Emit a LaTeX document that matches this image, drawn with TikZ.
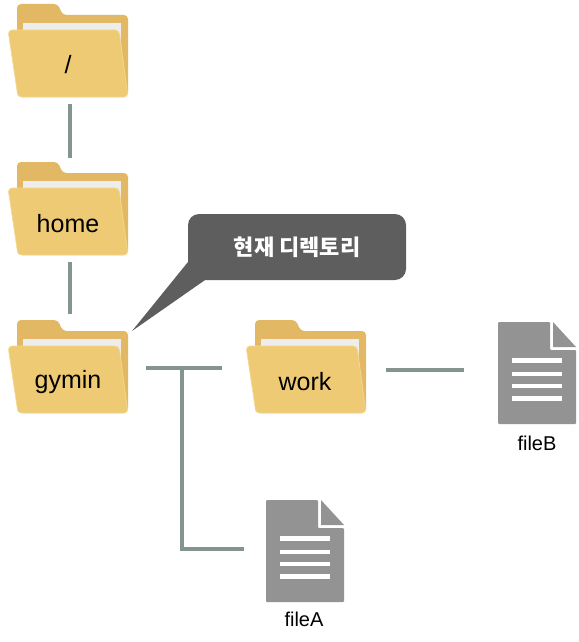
\documentclass[tikz,border=0pt]{standalone}
\usepackage{fontspec}
\setmainfont{Liberation Sans}
\newfontfamily\krfont{Noto Sans CJK KR}
\usetikzlibrary{calc}
\definecolor{FolderBack}{HTML}{E3B865}
\definecolor{FolderFront}{HTML}{EFCA74}
\definecolor{FolderEdge}{HTML}{F5D88E}
\definecolor{Paper}{HTML}{EDEDED}
\definecolor{Link}{HTML}{84948F}
\definecolor{FileGray}{HTML}{939393}
\definecolor{NoteGray}{HTML}{5E5E5E}
\tikzset{
  link/.style={draw=Link,line width=4pt},
  foldername/.style={text=black,inner sep=0pt,font=\fontsize{25}{29}\selectfont},
  filename/.style={text=black,inner sep=0pt,font=\fontsize{20}{24}\selectfont},
  note/.style={rectangle,rounded corners=11pt,fill=NoteGray,text=white,inner sep=0pt,minimum width=218pt,minimum height=66pt,font=\krfont\bfseries\fontsize{22}{26}\selectfont},
  pics/folder/.style={code={
    \fill[FolderBack,rounded corners=4pt] (17,97) -- (17,4) -- (58,4) -- (62.5,15) -- (128,15) -- (128,97) -- cycle;
    \fill[Paper] (23,23) rectangle (121,50);
    \filldraw[fill=FolderFront,draw=FolderEdge,line width=0.7pt,rounded corners=4pt] (8,30) -- (119,30) -- (128,97) -- (18,97) -- cycle;
  }},
  pics/doc/.style={code={
    \fill[FileGray,rounded corners=1pt] (498,322) -- (550,322) -- (550,350) -- (576,350) -- (576,424) -- (498,424) -- cycle;
    \fill[FileGray] (553,322) -- (576,347) -- (553,347) -- cycle;
    \fill[white] (512,358) rectangle (562,363);
    \fill[white] (512,372) rectangle (562,376);
    \fill[white] (512,384) rectangle (562,388);
    \fill[white] (512,396) rectangle (562,401);
  }}
}
\begin{document}
\begin{tikzpicture}[x=1pt,y=-1pt]
\useasboundingbox (0,0) rectangle (578,642);
\pic at (0,0) {folder};
\pic at (0,158) {folder};
\pic at (0,316) {folder};
\pic at (238,316) {folder};
\pic at (0,0) {doc};
\pic at (-232,178) {doc};
\node[foldername] (root) at (68,65) {/};
\node[foldername] (home) at (68,224) {home};
\node[foldername] (gymin) at (68,382) {gymin};
\node[foldername] (work) at (305,382) {work};
\node[filename] (fileB) at (537,443) {fileB};
\node[filename] (fileA) at (304,619) {fileA};
\node[note] (current) at (297,247) {현재 디렉토리};
% tail of the note
\coordinate (tip) at (132,331);
\fill[NoteGray] ($(current.south west)+(0,-18)$) -- (tip) -- ($(current.south west)+(17,0)$) -- cycle;
% links
\coordinate (rootout) at (70,104);
\coordinate (homein) at (70,158);
\coordinate (homeout) at (70,262);
\coordinate (gyminin) at (70,314);
\coordinate (gyminout) at (146,368);
\coordinate (workin) at (222,368);
\coordinate (branch) at (182,368);
\coordinate (fileAin) at (244,549);
\coordinate (workout) at (386,370);
\coordinate (fileBin) at (464,370);
\draw[link] (rootout) -- (homein);
\draw[link] (homeout) -- (gyminin);
\draw[link] (gyminout) -- (workin);
\draw[link] (branch) |- (fileAin);
\draw[link] (workout) -- (fileBin);
\end{tikzpicture}
\end{document}
